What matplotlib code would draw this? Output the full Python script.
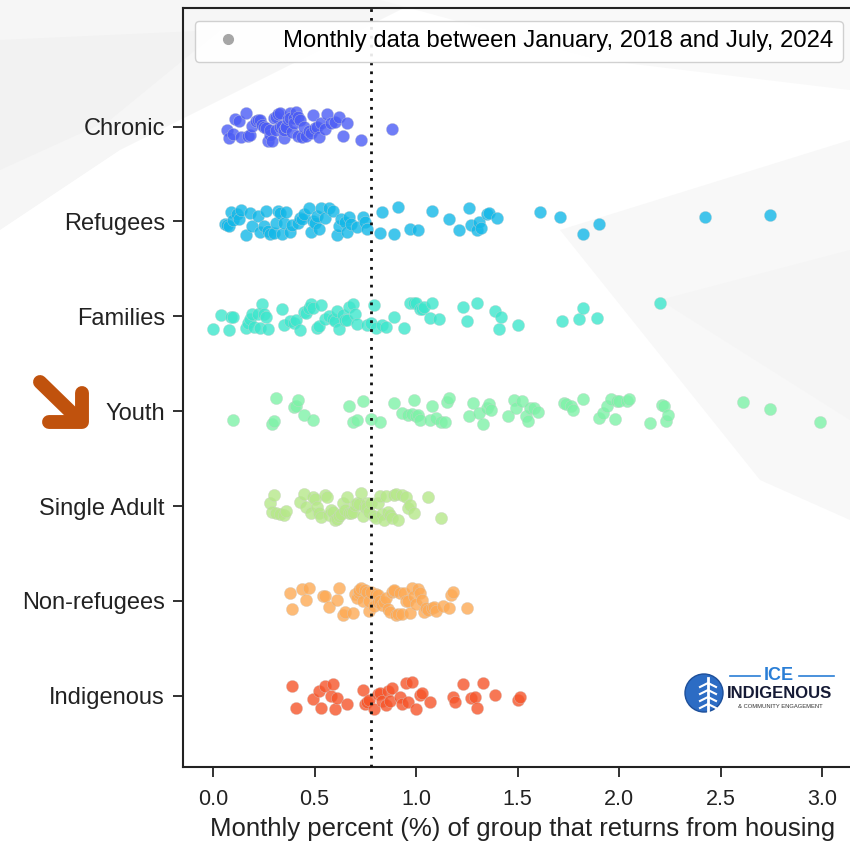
import numpy as np
import matplotlib
matplotlib.use("Agg")
import matplotlib.pyplot as plt
from matplotlib.lines import Line2D
from matplotlib.patches import Circle, Polygon

plt.rcParams["font.family"] = ["Liberation Sans", "DejaVu Sans"]

CATEGORIES = ["Chronic", "Refugees", "Families", "Youth", "Single Adult", "Non-refugees", "Indigenous"]
COLORS = ["#4b5cf5", "#13b8e8", "#3de6cc", "#7ef2a8", "#b6e88a", "#fdaa55", "#f6552a"]

chronic = [0.07, 0.08, 0.10, 0.11, 0.13, 0.14, 0.16, 0.17, 0.18, 0.19, 0.21, 0.22, 0.23, 0.24,
           0.25, 0.26, 0.27, 0.28, 0.28, 0.29, 0.30, 0.31, 0.31, 0.32, 0.33, 0.33, 0.34, 0.35,
           0.35, 0.36, 0.36, 0.37, 0.38, 0.38, 0.39, 0.40, 0.40, 0.41, 0.42, 0.42, 0.43, 0.44,
           0.45, 0.46, 0.47, 0.48, 0.49, 0.50, 0.51, 0.52, 0.53, 0.55, 0.56, 0.58, 0.60, 0.62,
           0.64, 0.66, 0.73, 0.88]
refugees = [0.06, 0.07, 0.08, 0.09, 0.10, 0.12, 0.13, 0.14, 0.16, 0.18, 0.19, 0.22, 0.23, 0.25,
            0.26, 0.27, 0.28, 0.30, 0.31, 0.32, 0.33, 0.34, 0.35, 0.36, 0.38, 0.39, 0.42, 0.43,
            0.44, 0.45, 0.47, 0.48, 0.49, 0.50, 0.51, 0.52, 0.53, 0.55, 0.57, 0.59, 0.61, 0.62,
            0.63, 0.65, 0.66, 0.67, 0.68, 0.71, 0.74, 0.75, 0.76, 0.82, 0.83, 0.89, 0.91, 0.97,
            1.01, 1.08, 1.16, 1.21, 1.26, 1.27, 1.30, 1.31, 1.32, 1.35, 1.36, 1.40, 1.61, 1.71,
            1.82, 1.90, 2.42, 2.74]
families = [0.00, 0.04, 0.08, 0.09, 0.10, 0.16, 0.17, 0.18, 0.19, 0.20, 0.22, 0.23, 0.24, 0.25,
            0.26, 0.27, 0.34, 0.35, 0.38, 0.40, 0.41, 0.43, 0.45, 0.46, 0.47, 0.48, 0.49, 0.51,
            0.52, 0.53, 0.55, 0.57, 0.59, 0.60, 0.61, 0.62, 0.64, 0.65, 0.66, 0.67, 0.69, 0.70,
            0.71, 0.76, 0.78, 0.79, 0.80, 0.83, 0.85, 0.89, 0.94, 0.97, 0.99, 1.00, 1.02, 1.03,
            1.04, 1.07, 1.08, 1.11, 1.23, 1.25, 1.30, 1.39, 1.41, 1.42, 1.50, 1.72, 1.80, 1.82,
            1.89, 2.20]
youth = [0.10, 0.29, 0.30, 0.31, 0.40, 0.41, 0.42, 0.45, 0.49, 0.67, 0.69, 0.71, 0.74, 0.78,
         0.82, 0.89, 0.93, 0.96, 0.98, 0.99, 1.00, 1.01, 1.02, 1.07, 1.08, 1.10, 1.12, 1.14,
         1.15, 1.16, 1.26, 1.28, 1.31, 1.33, 1.35, 1.36, 1.37, 1.45, 1.48, 1.49, 1.52, 1.54,
         1.55, 1.56, 1.58, 1.60, 1.73, 1.74, 1.76, 1.77, 1.82, 1.90, 1.92, 1.94, 1.96, 1.98,
         1.99, 2.00, 2.04, 2.05, 2.15, 2.21, 2.22, 2.23, 2.24, 2.61, 2.74, 2.99]
single_adult = [0.28, 0.29, 0.30, 0.31, 0.33, 0.35, 0.36, 0.43, 0.45, 0.46, 0.48, 0.49, 0.50,
                0.51, 0.52, 0.53, 0.55, 0.56, 0.57, 0.58, 0.59, 0.60, 0.61, 0.62, 0.63, 0.64,
                0.65, 0.66, 0.67, 0.68, 0.69, 0.70, 0.71, 0.72, 0.73, 0.74, 0.75, 0.76, 0.76,
                0.77, 0.78, 0.79, 0.80, 0.81, 0.82, 0.83, 0.84, 0.85, 0.86, 0.87, 0.88, 0.89,
                0.90, 0.91, 0.93, 0.95, 0.96, 0.97, 0.99, 1.06, 1.12]
non_refugees = [0.38, 0.39, 0.44, 0.46, 0.47, 0.54, 0.55, 0.57, 0.61, 0.62, 0.64, 0.65, 0.69,
                0.70, 0.71, 0.72, 0.72, 0.73, 0.74, 0.75, 0.76, 0.77, 0.77, 0.78, 0.79, 0.80,
                0.81, 0.81, 0.82, 0.83, 0.84, 0.85, 0.86, 0.87, 0.88, 0.89, 0.89, 0.90, 0.91,
                0.92, 0.93, 0.94, 0.95, 0.96, 0.97, 0.98, 0.99, 1.00, 1.01, 1.02, 1.03, 1.04,
                1.05, 1.06, 1.08, 1.09, 1.10, 1.13, 1.16, 1.17, 1.18, 1.25]
indigenous = [0.39, 0.41, 0.49, 0.52, 0.53, 0.55, 0.58, 0.59, 0.60, 0.61, 0.66, 0.74, 0.75,
              0.76, 0.77, 0.79, 0.81, 0.82, 0.83, 0.85, 0.86, 0.87, 0.88, 0.92, 0.93, 0.95,
              0.96, 0.98, 1.00, 1.02, 1.03, 1.07, 1.18, 1.19, 1.23, 1.27, 1.29, 1.30, 1.33,
              1.39, 1.50, 1.51]

SERIES = [chronic, refugees, families, youth, single_adult, non_refugees, indigenous]
REFERENCE_LINE = 0.78
XTICKS = [0.0, 0.5, 1.0, 1.5, 2.0, 2.5, 3.0]
LEGEND_LABEL = "Monthly data between January, 2018 and July, 2024"
XLABEL = "Monthly percent (%) of group that returns from housing"

W, H = 850, 844
fig = plt.figure(figsize=(W / 100, H / 100), dpi=100)

# very faint background swooshes
bg = fig.add_axes([0, 0, 1, 1], zorder=-5)
bg.set_xlim(0, W)
bg.set_ylim(H, 0)
bg.axis("off")
for pts, c in [
    ([(0, 0), (420, 0), (300, 60), (120, 150), (0, 230)], "#f6f6f6"),
    ([(0, 40), (220, 30), (110, 120), (0, 170)], "#f2f2f2"),
    ([(560, 230), (850, 140), (850, 520), (760, 480)], "#f8f8f8"),
    ([(660, 300), (850, 250), (850, 420)], "#f5f5f5"),
    ([(380, 0), (850, 0), (850, 90), (600, 60)], "#f9f9f9"),
]:
    bg.add_patch(Polygon(pts, closed=True, facecolor=c, edgecolor="none"))

ax = fig.add_axes([183 / W, 1 - 767 / H, 0.80, (767 - 8) / H])
ax.patch.set_alpha(0)

rng = np.random.default_rng(7)
for i, (vals, col) in enumerate(zip(SERIES, COLORS)):
    vals = np.asarray(vals)
    yj = i + rng.uniform(-0.15, 0.15, len(vals))
    ax.scatter(vals, yj, s=78, color=col, alpha=0.8, edgecolor="#d0d0d0",
               linewidth=0.3, zorder=3)

ax.axvline(REFERENCE_LINE, color="#111111", linestyle=(0, (1, 2.2)), linewidth=2, zorder=4)

ax.set_xlim(-0.148, 3.20)
ax.set_ylim(6.75, -1.25)
ax.set_yticks(range(len(CATEGORIES)))
ax.set_yticklabels(CATEGORIES, fontsize=17)
ax.set_xticks(XTICKS)
ax.set_xticklabels([f"{t:.1f}" for t in XTICKS], fontsize=15.5)
ax.tick_params(axis="both", colors="#222222", length=7, width=1.3, pad=6)
ax.tick_params(axis="x", pad=9)
ax.set_xlabel(XLABEL, fontsize=18.5, color="#222222", labelpad=5)
for sp in ax.spines.values():
    sp.set_color("#222222")
    sp.set_linewidth(1.5)
ax.spines["right"].set_visible(False)

handle = Line2D([], [], marker="o", linestyle="none", color="#a6a6a6", markersize=7)
leg = ax.legend([handle], [LEGEND_LABEL], loc="upper right", bbox_to_anchor=(0.988, 0.999),
                fontsize=17.2, frameon=True, handletextpad=1.3, borderpad=0.4,
                fancybox=True, framealpha=0.9)
leg.get_frame().set_edgecolor("#cccccc")
leg.get_frame().set_linewidth(1.0)

# orange arrow pointing at Youth
ov = fig.add_axes([0, 0, 1, 1], zorder=10)
ov.set_xlim(0, W)
ov.set_ylim(H, 0)
ov.axis("off")
ov.patch.set_alpha(0)
arrow_col = "#c0520d"
ov.plot([40, 78], [382, 419], color=arrow_col, linewidth=10, solid_capstyle="round")
ov.plot([49, 82, 82], [422, 422, 393], color=arrow_col, linewidth=10,
        solid_capstyle="round", solid_joinstyle="round")

# ICE logo
ov.add_patch(Circle((704, 693), 19, facecolor="#2c6cc4", edgecolor="#1d4f9a", linewidth=1))
ov.plot([708, 708], [678, 712], color="white", linewidth=2)
for dy in (683, 690, 697, 704):
    ov.plot([700, 708, 716], [dy + 4, dy, dy + 4], color="white", linewidth=1.5)
ov.text(779, 675, "ICE", color="#2a7ed6", fontsize=13, fontweight="bold",
        ha="center", va="center")
ov.plot([730, 760], [676, 676], color="#2a7ed6", linewidth=1.2)
ov.plot([799, 834], [676, 676], color="#2a7ed6", linewidth=1.2)
ov.text(780, 693, "INDIGENOUS", color="#151a35", fontsize=12, fontweight="bold",
        ha="center", va="center")
ov.text(780, 707, "& COMMUNITY ENGAGEMENT", color="#333333", fontsize=4.2,
        ha="center", va="center")

fig.savefig("out.png", dpi=100)
